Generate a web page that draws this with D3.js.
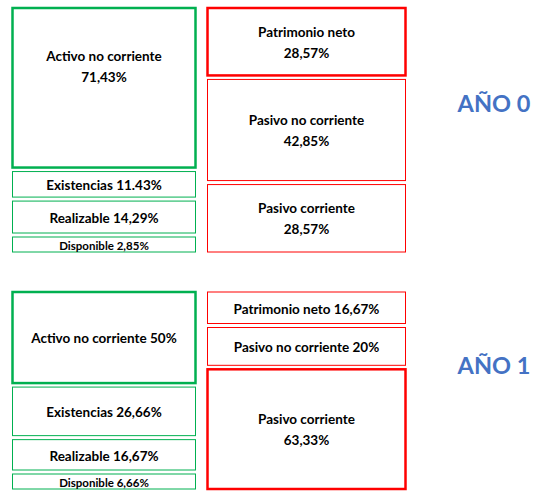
<!DOCTYPE html>
<html>
<head>
<meta charset="utf-8">
<script src="https://cdn.jsdelivr.net/npm/d3@7/dist/d3.min.js"></script>
<style>
  html, body { margin: 0; padding: 0; background: #fff; }
  svg { display: block; }
  text { font-family: Lato, "Open Sans", sans-serif; font-weight: bold; }
</style>
</head>
<body>
<svg id="chart" width="552" height="496"></svg>
<script>
// ---- DATA ----
const years = ["AÑO 0", "AÑO 1"];
const activoNames = ["Activo no corriente", "Existencias", "Realizable", "Disponible"];
const activoY0 = [71.43, 11.43, 14.29, 2.85];
const activoY0Text = ["71,43%", "11.43%", "14,29%", "2,85%"];
const activoY1 = [50, 26.66, 16.67, 6.66];
const activoY1Text = ["50%", "26,66%", "16,67%", "6,66%"];
const pasivoNames = ["Patrimonio neto", "Pasivo no corriente", "Pasivo corriente"];
const pasivoY0 = [28.57, 42.85, 28.57];
const pasivoY0Text = ["28,57%", "42,85%", "28,57%"];
const pasivoY1 = [16.67, 20, 63.33];
const pasivoY1Text = ["16,67%", "20%", "63,33%"];

// ---- STYLE / LAYOUT (not data) ----
const GREEN = "#00B050", RED = "#FF0000", BLUE = "#4472C4";
const thick = new Set(["0|Activo no corriente", "0|Patrimonio neto", "1|Activo no corriente", "1|Pasivo corriente"]);
const twoLine = new Set(["0|Activo no corriente", "0|Patrimonio neto", "0|Pasivo no corriente", "0|Pasivo corriente", "1|Pasivo corriente"]);
const small = new Set(["Disponible"]);
const labelDy = { "0|Activo no corriente": -22 };
const blocks = [{ top: 8, bottom: 252 }, { top: 292, bottom: 489 }];
const cols = { activo: { x0: 12.5, x1: 195.5, color: GREEN }, pasivo: { x0: 207.5, x1: 405.5, color: RED } };
const GAP = 4, MIN_H = 15;

const svg = d3.select("#chart");

function layoutColumn(values, top, bottom) {
  const n = values.length;
  const avail = bottom - top - GAP * (n - 1);
  let fixed = new Array(n).fill(false);
  let scale;
  for (let iter = 0; iter < n; iter++) {
    const fixedCount = fixed.filter(d => d).length;
    const sumFree = d3.sum(values.filter((v, i) => !fixed[i]));
    scale = d3.scaleLinear().domain([0, sumFree]).range([0, avail - fixedCount * MIN_H]);
    let changed = false;
    values.forEach((v, i) => { if (!fixed[i] && scale(v) < MIN_H) { fixed[i] = true; changed = true; } });
    if (!changed) break;
  }
  let y = top;
  return values.map((v, i) => {
    const h = fixed[i] ? MIN_H : scale(v);
    const r = { y, h };
    y += h + GAP;
    return r;
  });
}

function drawColumn(yi, col, names, values, texts) {
  const b = blocks[yi];
  const lay = layoutColumn(values, b.top, b.bottom);
  const data = names.map((name, i) => ({ key: yi + "|" + name, name, value: values[i], text: texts[i], ...lay[i] }));
  const g = svg.append("g");
  g.selectAll("rect").data(data).join("rect")
    .attr("x", col.x0).attr("width", col.x1 - col.x0)
    .attr("y", d => d.y).attr("height", d => d.h)
    .attr("fill", "#fff").attr("stroke", col.color)
    .attr("stroke-width", d => thick.has(d.key) ? 2.5 : 1);
  const cx = (col.x0 + col.x1) / 2;
  data.forEach(d => {
    const fs = small.has(d.name) ? 11.5 : 13.5;
    const cy = d.y + d.h / 2 + (labelDy[d.key] || 0);
    const t = g.append("text").attr("x", cx).attr("text-anchor", "middle")
      .attr("font-size", fs).attr("fill", "#000");
    if (twoLine.has(d.key)) {
      t.append("tspan").attr("x", cx).attr("y", cy - 5).text(d.name);
      t.append("tspan").attr("x", cx).attr("y", cy + 16).text(d.text);
    } else {
      t.attr("y", cy + fs * 0.36 + 1).text(d.name + " " + d.text);
    }
  });
}

drawColumn(0, cols.activo, activoNames, activoY0, activoY0Text);
drawColumn(0, cols.pasivo, pasivoNames, pasivoY0, pasivoY0Text);
drawColumn(1, cols.activo, activoNames, activoY1, activoY1Text);
drawColumn(1, cols.pasivo, pasivoNames, pasivoY1, pasivoY1Text);

// Year titles
const yearY = [104, 366];
svg.selectAll("text.year").data(years).join("text").attr("class", "year")
  .attr("x", 494).attr("y", (d, i) => yearY[i] + 8)
  .attr("text-anchor", "middle").attr("font-size", 23.5).attr("fill", BLUE)
  .text(d => d);
</script>
</body>
</html>
